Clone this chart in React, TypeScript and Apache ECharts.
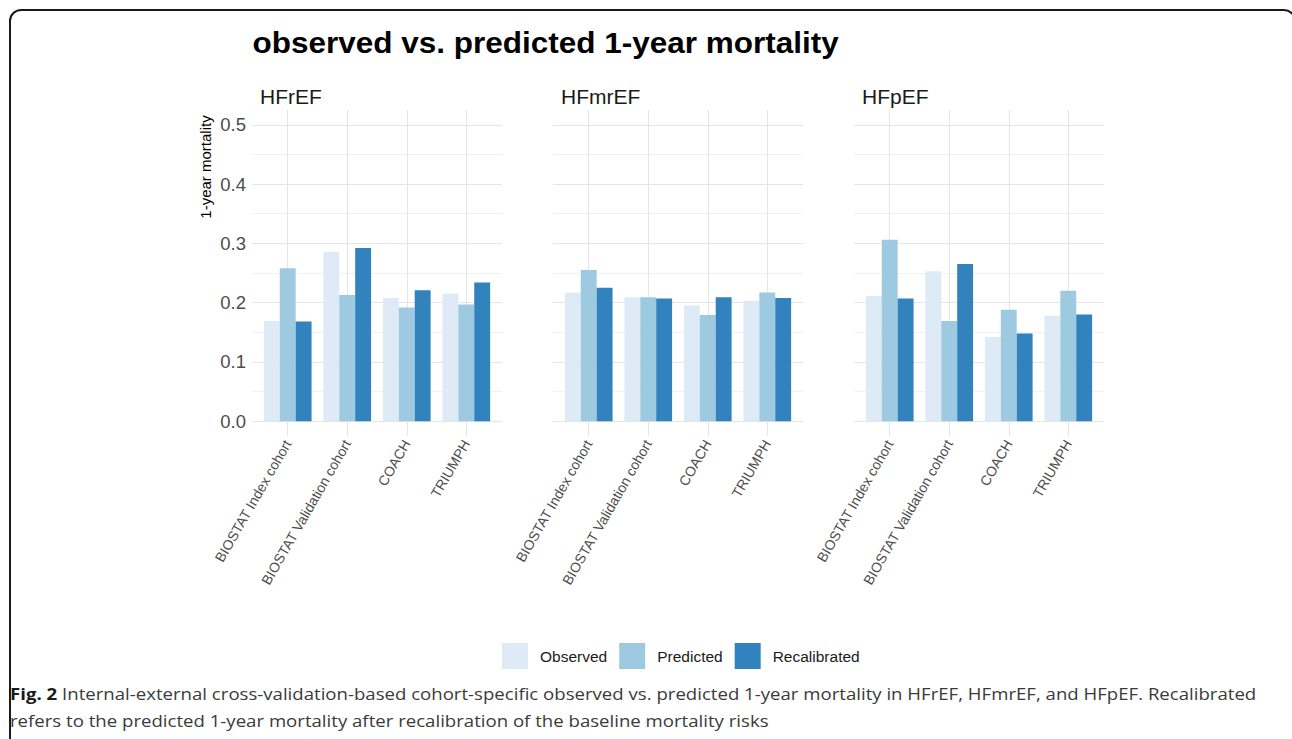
import React, { useEffect, useRef } from 'react';
import * as echarts from 'echarts';

const categories = ['BIOSTAT Index cohort', 'BIOSTAT Validation cohort', 'COACH', 'TRIUMPH'];
const categoryPositions = [1, 2, 3, 4];
const panelNames = ['HFrEF', 'HFmrEF', 'HFpEF'];
const seriesNames = ['Observed', 'Predicted', 'Recalibrated'];
const seriesColors = ['#DEEBF7', '#9ECAE1', '#3182BD'];

const hfrefObserved = [0.169, 0.286, 0.208, 0.215];
const hfrefPredicted = [0.258, 0.213, 0.192, 0.197];
const hfrefRecalibrated = [0.168, 0.292, 0.221, 0.234];
const hfmrefObserved = [0.217, 0.209, 0.195, 0.203];
const hfmrefPredicted = [0.255, 0.209, 0.179, 0.217];
const hfmrefRecalibrated = [0.225, 0.207, 0.209, 0.208];
const hfpefObserved = [0.211, 0.253, 0.142, 0.178];
const hfpefPredicted = [0.306, 0.169, 0.188, 0.22];
const hfpefRecalibrated = [0.207, 0.265, 0.148, 0.18];

const yTicks = [0, 0.1, 0.2, 0.3, 0.4, 0.5];
const yMinorTicks = [0.05, 0.15, 0.25, 0.35, 0.45];

const panelData = [
  [hfrefObserved, hfrefPredicted, hfrefRecalibrated],
  [hfmrefObserved, hfmrefPredicted, hfmrefRecalibrated],
  [hfpefObserved, hfpefPredicted, hfpefRecalibrated],
];

const FONT = '"Liberation Sans", Arial, Helvetica, sans-serif';
const CAPTION_FONT = '"Open Sans", "Noto Sans", sans-serif';

export default function App() {
  const ref = useRef<HTMLDivElement>(null);

  useEffect(() => {
    document.body.style.margin = '0';
    const chart = echarts.init(ref.current!, null, { renderer: 'svg' });

    const gridLefts = [252, 553, 854];
    const grids = gridLefts.map((l) => ({ left: l, top: 110, width: 250, height: 326 }));

    const xAxes = gridLefts.map((_, i) => ({
      type: 'value',
      gridIndex: i,
      min: 0.4,
      max: 4.6,
      axisLine: { show: false },
      axisTick: { show: false },
      splitLine: { show: false },
      axisLabel: {
        customValues: categoryPositions,
        formatter: (v: number) => categories[Math.round(v) - 1] ?? '',
        rotate: 60,
        margin: 5,
        fontSize: 14,
        color: '#4D4D4D',
        fontFamily: FONT,
      },
    }));

    const yAxes = gridLefts.map((_, i) => ({
      type: 'value',
      gridIndex: i,
      min: -0.025,
      max: 0.525,
      axisLine: { show: false },
      axisTick: { show: false },
      splitLine: { show: false },
      axisLabel: {
        show: i === 0,
        customValues: yTicks,
        formatter: (v: number) => v.toFixed(1),
        fontSize: 18.5,
        color: '#4D4D4D',
        margin: 6,
        fontFamily: FONT,
      },
    }));

    const gridMarkLines = [
      ...yTicks.map((v) => ({ yAxis: v, lineStyle: { color: '#E6E6E6', width: 1.1 } })),
      ...yMinorTicks.map((v) => ({ yAxis: v, lineStyle: { color: '#EEEEEE', width: 0.8 } })),
      ...categoryPositions.map((x) => ({ xAxis: x, lineStyle: { color: '#E6E6E6', width: 1.1 } })),
    ];

    const series: any[] = [];
    panelData.forEach((panel, pi) => {
      panel.forEach((vals, si) => {
        series.push({
          type: 'bar',
          name: seriesNames[si],
          xAxisIndex: pi,
          yAxisIndex: pi,
          barWidth: 15.9,
          barGap: '0%',
          itemStyle: { color: seriesColors[si] },
          data: vals.map((v, ci) => [categoryPositions[ci], v]),
          z: 2,
          markLine:
            si === 1
              ? {
                  silent: true,
                  symbol: 'none',
                  z: 1,
                  label: { show: false },
                  emphasis: { disabled: true },
                  lineStyle: { type: 'solid' },
                  data: gridMarkLines,
                }
              : undefined,
        });
      });
    });

    chart.setOption({
      animation: false,
      backgroundColor: '#FFFFFF',
      grid: grids,
      xAxis: xAxes,
      yAxis: yAxes,
      legend: {
        data: seriesNames,
        left: 502,
        top: 643,
        padding: 0,
        icon: 'rect',
        itemWidth: 26,
        itemHeight: 26,
        itemGap: 12,
        selectedMode: false,
        textStyle: { fontSize: 15.5, color: '#1A1A1A', fontFamily: FONT, padding: [0, 0, 0, 7] },
      },
      series,
      graphic: [
        {
          type: 'rect',
          shape: { x: 10, y: 10, width: 1285, height: 800, r: 11 },
          style: { fill: 'none', stroke: '#1A1A1A', lineWidth: 2 },
          silent: true,
        },
        {
          type: 'text',
          x: 252.5,
          y: 42.5,
          scaleX: 1.05,
          style: {
            text: 'observed vs. predicted 1-year mortality',
            fontSize: 30,
            fontWeight: 'bold',
            fill: '#000',
            fontFamily: FONT,
            verticalAlign: 'middle',
          },
        },
        ...panelNames.map((n, i) => ({
          type: 'text',
          x: gridLefts[i] + 8,
          y: 96,
          style: {
            text: n,
            fontSize: 21,
            fill: '#1A1A1A',
            fontFamily: FONT,
            verticalAlign: 'middle',
          },
        })),
        {
          type: 'text',
          x: 205,
          y: 167,
          rotation: Math.PI / 2,
          style: {
            text: '1-year mortality',
            fontSize: 15,
            fill: '#000',
            fontFamily: FONT,
            align: 'center',
            verticalAlign: 'middle',
          },
        },
        {
          type: 'text',
          x: 10,
          y: 693,
          scaleX: 1.128,
          style: {
            text: '{b|Fig. 2} Internal-external cross-validation-based cohort-specific observed vs. predicted 1-year mortality in HFrEF, HFmrEF, and HFpEF. Recalibrated',
            fontSize: 16.5,
            fill: '#3A3A3A',
            fontFamily: CAPTION_FONT,
            verticalAlign: 'middle',
            rich: {
              b: { fontSize: 16.5, fontWeight: 'bold', fill: '#1A1A1A', fontFamily: CAPTION_FONT },
            },
          },
        },
        {
          type: 'text',
          x: 10,
          y: 720,
          scaleX: 1.128,
          style: {
            text: 'refers to the predicted 1-year mortality after recalibration of the baseline mortality risks',
            fontSize: 16.5,
            fill: '#3A3A3A',
            fontFamily: CAPTION_FONT,
            verticalAlign: 'middle',
          },
        },
      ],
    });

    return () => chart.dispose();
  }, []);

  return <div ref={ref} style={{ position: 'fixed', left: 0, top: 0, width: 1292, height: 739 }} />;
}
